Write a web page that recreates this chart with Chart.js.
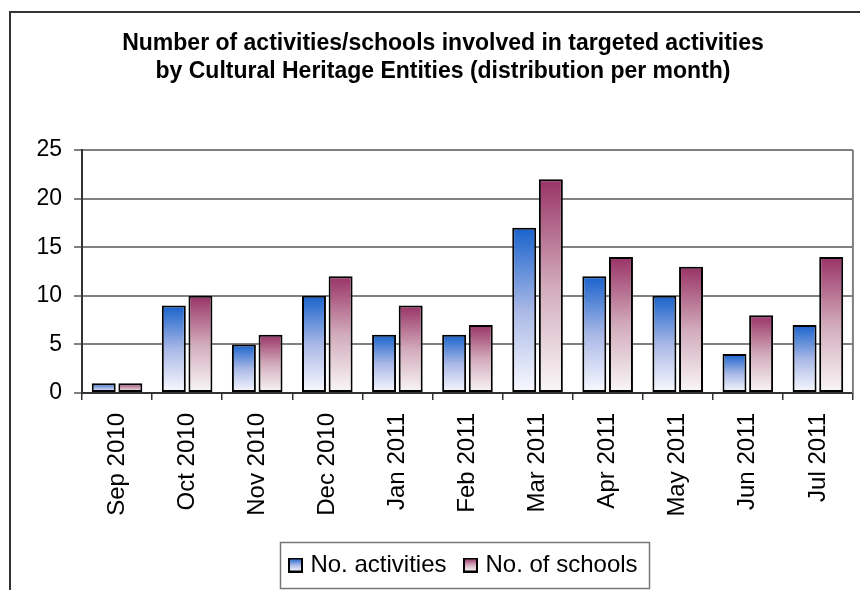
<!DOCTYPE html>
<html>
<head>
<meta charset="utf-8">
<script src="https://cdn.jsdelivr.net/npm/chart.js@4"></script>
<style>
  html, body { margin: 0; padding: 0; background: #fff; }
  #wrap { width: 860px; height: 590px; }
</style>
</head>
<body>
<div id="wrap"><canvas id="monthChart" width="860" height="590"></canvas></div>
<script>
// data
const months = ['Sep 2010', 'Oct 2010', 'Nov 2010', 'Dec 2010', 'Jan 2011', 'Feb 2011',
                'Mar 2011', 'Apr 2011', 'May 2011', 'Jun 2011', 'Jul 2011'];
const activities = [1, 9, 5, 10, 6, 6, 17, 12, 10, 4, 7];
const schools = [1, 10, 6, 12, 9, 7, 22, 14, 13, 8, 14];
const yTicks = [0, 5, 10, 15, 20, 25];

const blueStops = ['#1862cc', '#a9b8e6', '#fafaff'];
const maroonStops = ['#993366', '#d2abbb', '#faf8f8'];

Chart.defaults.font.family = "'Liberation Sans', Arial, sans-serif";
Chart.defaults.color = '#000';

// vertical gradient from bar top down to zero line
function barFill(stops) {
    return (ctx) => {
        const chart = ctx.chart;
        const y = chart.scales.y;
        if (!y || ctx.type !== 'data') return stops[0];
        const top = y.getPixelForValue(ctx.raw);
        const bottom = y.getPixelForValue(0);
        if (!isFinite(top) || !isFinite(bottom) || top === bottom) return stops[0];
        const g = chart.ctx.createLinearGradient(0, top, 0, bottom);
        g.addColorStop(0, stops[0]);
        g.addColorStop(0.5, stops[1]);
        g.addColorStop(1, stops[2]);
        return g;
    };
}

// little legend swatch drawn on its own canvas
function swatch(stops) {
    const c = document.createElement('canvas');
    c.width = 15; c.height = 15;
    const x = c.getContext('2d');
    const g = x.createLinearGradient(0, 1, 0, 14);
    g.addColorStop(0, stops[0]);
    g.addColorStop(0.5, stops[1]);
    g.addColorStop(1, stops[2]);
    x.fillStyle = g;
    x.fillRect(1, 1, 13, 13);
    x.strokeStyle = '#000';
    x.lineWidth = 2;
    x.strokeRect(1, 1, 13, 13);
    return c;
}

const frame = {
    id: 'frame',
    afterLayout(chart) {
        // legend sits a bit right of centre in the original
        chart.legend.left += 22;
        chart.legend.right += 22;
    },
    beforeDraw(chart) {
        const c = chart.ctx;
        c.save();
        c.strokeStyle = '#333';
        c.lineWidth = 2;
        c.beginPath();
        c.moveTo(10, 590);
        c.lineTo(10, 12);
        c.lineTo(860, 12);
        c.stroke();
        c.restore();
    },
    afterDraw(chart) {
        const c = chart.ctx;
        const a = chart.chartArea;
        c.save();
        // right edge of plot area
        c.strokeStyle = '#808080';
        c.lineWidth = 2;
        c.beginPath();
        c.moveTo(a.right, a.top);
        c.lineTo(a.right, a.bottom);
        c.stroke();
        // box round the legend
        const boxes = chart.legend.legendHitBoxes;
        if (boxes && boxes.length) {
            const left = Math.min(...boxes.map(b => b.left)) - 12;
            const right = Math.max(...boxes.map(b => b.left + b.width)) + 12;
            const top = Math.min(...boxes.map(b => b.top)) - 11;
            const bottom = Math.max(...boxes.map(b => b.top + b.height)) + 11;
            c.strokeStyle = '#777';
            c.lineWidth = 1.5;
            c.strokeRect(Math.round(left) + 0.5, Math.round(top) + 0.5, Math.round(right - left), Math.round(bottom - top));
        }
        c.restore();
    }
};

const chart = new Chart(document.getElementById('monthChart'), {
    type: 'bar',
    data: {
        labels: months,
        datasets: [{
            label: 'No. activities',
            data: activities,
            backgroundColor: barFill(blueStops),
            borderColor: '#000',
            borderWidth: 2,
            borderSkipped: false,
            legendSwatch: swatch(blueStops)
        }, {
            label: 'No. of schools',
            data: schools,
            backgroundColor: barFill(maroonStops),
            borderColor: '#000',
            borderWidth: 2,
            borderSkipped: false,
            legendSwatch: swatch(maroonStops)
        }]
    },
    options: {
        responsive: false,
        animation: false,
        layout: { padding: { left: 33, right: 7, top: 0, bottom: 3 } },
        datasets: { bar: { categoryPercentage: 0.76, barPercentage: 0.9 } },
        plugins: {
            title: {
                display: true,
                text: ['Number of activities/schools involved in targeted activities',
                       'by Cultural Heritage Entities (distribution per month)'],
                font: { size: 23, weight: 'bold', lineHeight: 1.2174 },
                color: '#000',
                padding: { top: 30, bottom: 64 }
            },
            legend: {
                position: 'bottom',
                labels: {
                    usePointStyle: true,
                    pointStyleWidth: 6,
                    boxHeight: 14,
                    padding: 21,
                    font: { size: 24 },
                    color: '#000',
                    generateLabels(chart) {
                        return chart.data.datasets.map((ds, i) => ({
                            text: ds.label,
                            pointStyle: ds.legendSwatch,
                            fillStyle: '#fff',
                            strokeStyle: '#000',
                            lineWidth: 0,
                            hidden: false,
                            datasetIndex: i
                        }));
                    }
                }
            },
            tooltip: { enabled: false }
        },
        scales: {
            x: {
                grid: { display: true, offset: true, drawOnChartArea: false, tickLength: 7, color: '#333', lineWidth: 1.5 },
                border: { color: '#333', width: 2 },
                ticks: { minRotation: 90, maxRotation: 90, autoSkip: false, padding: 13, font: { size: 24 }, color: '#000' },
                afterFit(scale) { scale.height = 139; }
            },
            y: {
                min: yTicks[0],
                max: yTicks[yTicks.length - 1],
                afterBuildTicks(scale) { scale.ticks = yTicks.map(v => ({ value: v })); },
                grid: { color: '#808080', lineWidth: 2, tickLength: 8 },
                border: { color: '#333', width: 2 },
                ticks: { padding: 12, font: { size: 23 }, color: '#000' },
                afterFit(scale) { scale.width = 49; }
            }
        }
    },
    plugins: [frame]
});
</script>
</body>
</html>
